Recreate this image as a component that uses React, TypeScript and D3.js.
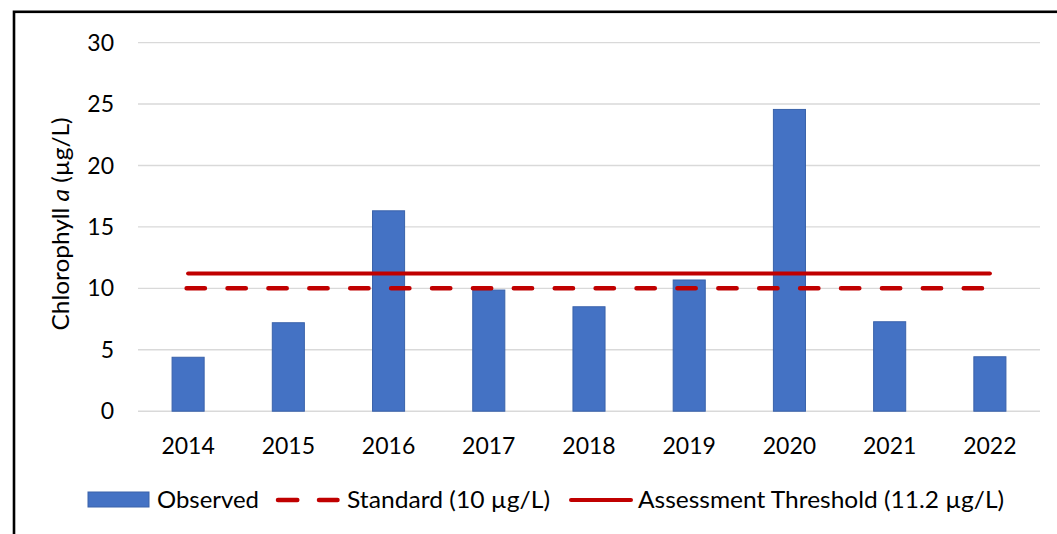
import React from "react";
import * as d3 from "d3";

const years = ["2014", "2015", "2016", "2017", "2018", "2019", "2020", "2021", "2022"];
const observed = [4.39, 7.2, 16.31, 9.86, 8.5, 10.68, 24.56, 7.28, 4.43];
const standardValue = 10;
const thresholdValue = 11.2;
const yTicks = [0, 5, 10, 15, 20, 25, 30];
const legendLabels = ["Observed", "Standard (10 \u00b5g/L)", "Assessment Threshold (11.2 \u00b5g/L)"];

const W = 1057;
const H = 534;
const FONT = "Lato, 'Open Sans', sans-serif";
const RED = "#C00000";
const BLUE = "#4472C4";

export default function App() {
  const x = d3.scaleBand<string>().domain(years).range([138, 1040]).paddingInner(0.68).paddingOuter(0.34);
  const xc = d3.scaleBand<string>().domain(years).range([138, 1040]).padding(0);
  const y = d3.scaleLinear().domain([0, 30]).range([411.2, 42.6]);
  const center = (d: string) => (xc(d) as number) + xc.bandwidth() / 2;
  const x0 = center(years[0]);
  const x1 = center(years[years.length - 1]);

  return (
    <svg width={W} height={H} style={{ position: "absolute", left: 0, top: 0, background: "#fff" }} fontFamily={FONT}>
      <rect x={0} y={0} width={W} height={H} fill="#fff" />
      <rect x={14} y={11.8} width={1200} height={800} fill="none" stroke="#000" strokeWidth={2.6} />
      {yTicks.map((t) => (
        <g key={t}>
          <line x1={138} x2={1040} y1={y(t)} y2={y(t)} stroke="#D9D9D9" strokeWidth={1.4} />
          <text x={114} y={y(t)} dy="0.35em" textAnchor="end" fontSize={23} fill="#000">
            {t}
          </text>
        </g>
      ))}
      {years.map((yr, i) => (
        <rect
          key={yr}
          x={x(yr)}
          y={y(observed[i])}
          width={x.bandwidth()}
          height={y(0) - y(observed[i])}
          fill={BLUE}
          stroke="#3A62AA"
          strokeWidth={1}
        />
      ))}
      <line x1={x0} x2={x1} y1={y(thresholdValue)} y2={y(thresholdValue)} stroke={RED} strokeWidth={4} strokeLinecap="round" />
      <line
        x1={x0 - 1.5}
        x2={x1}
        y1={y(standardValue)}
        y2={y(standardValue)}
        stroke={RED}
        strokeWidth={4.5}
        strokeLinecap="round"
        strokeDasharray="18.3 22.6"
      />
      {years.map((yr) => (
        <text key={yr} x={center(yr)} y={446} dy="0.35em" textAnchor="middle" fontSize={23} fill="#000">
          {yr}
        </text>
      ))}
      <text
        transform={`translate(61,224) rotate(-90)`}
        textAnchor="middle"
        dy="0.35em"
        fontSize={23}
        fill="#000"
        textLength={213}
        lengthAdjust="spacingAndGlyphs"
      >
        Chlorophyll <tspan fontStyle="italic">a</tspan> ({"\u00b5"}g/L)
      </text>
      {/* legend */}
      <rect x={88} y={492} width={61} height={15} fill={BLUE} stroke="#3A62AA" strokeWidth={1} />
      <text x={157} y={499.5} dy="0.35em" fontSize={23} fill="#000" textLength={102} lengthAdjust="spacingAndGlyphs">
        {legendLabels[0]}
      </text>
      <line
        x1={278}
        x2={337.5}
        y1={500}
        y2={500}
        stroke={RED}
        strokeWidth={4.5}
        strokeLinecap="round"
        strokeDasharray="19.3 21.7"
      />
      <text x={347} y={499.5} dy="0.35em" fontSize={23} fill="#000" textLength={203} lengthAdjust="spacingAndGlyphs">
        {legendLabels[1]}
      </text>
      <line x1={571} x2={631} y1={500} y2={500} stroke={RED} strokeWidth={4} strokeLinecap="round" />
      <text x={638} y={499.5} dy="0.35em" fontSize={23} fill="#000" textLength={366} lengthAdjust="spacingAndGlyphs">
        {legendLabels[2]}
      </text>
    </svg>
  );
}
